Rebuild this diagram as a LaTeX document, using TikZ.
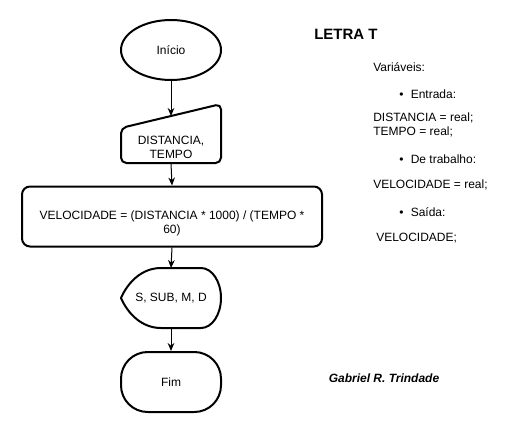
\documentclass[tikz,border=0pt]{standalone}
\usepackage{fontspec}
\setmainfont{Liberation Sans}
\usepackage{tikz}
\usetikzlibrary{positioning,shapes.geometric,arrows.meta}

\begin{document}
\begin{tikzpicture}[x=0.75pt,y=0.75pt,yscale=-1,xscale=1,
    font=\fontsize{9}{10.5}\selectfont,
    flow/.style={draw,line width=1.5pt},
    link/.style={line width=0.75pt,-{Stealth[length=6pt,width=5pt]}},
    txt/.style={inner sep=0pt,anchor=west,align=left}]
        \useasboundingbox (0,0) rectangle (522,433);
        %Shape: Ellipse [id:inicio]
        \node [flow,ellipse,minimum width=75pt,minimum height=45pt,inner sep=0pt] (inicio) at (171,50) {Início};
        %Shape: Manual Input [id:entrada]
        \draw [flow,rounded corners=4pt] (121,128) -- (221,104) -- (221,163) -- (121,163) -- cycle ;
        \node [inner sep=0.75pt,align=center] (entrada) at (171,147) {DISTANCIA,\\TEMPO};
        \coordinate (entrada-top) at (171,116);
        \coordinate (entrada-bot) at (171,163);
        %Shape: Rounded Rect [id:calculo]
        \node [flow,rounded corners=6pt,minimum width=225pt,minimum height=45pt] (calculo) at (172,216.5) {};
        \node [inner sep=0.75pt,align=center] (calculo-txt) at (172,223)
            {VELOCIDADE = (DISTANCIA * 1000) / (TEMPO *\\60)};
        %Shape: Display [id:saida]
        \draw [flow] (121,298) .. controls (128,282) and (142,268) .. (161,268) -- (201,268)
            .. controls (212,268) and (221,281.4) .. (221,298) .. controls (221,314.6) and (212,328) ..
            (201,328) -- (161,328) .. controls (142,328) and (128,314) .. (121,298) -- cycle ;
        \node [inner sep=0.75pt] (saida) at (171,298) {S, SUB, M, D};
        \coordinate (saida-top) at (171,268);
        \coordinate (saida-bot) at (171,328);
        %Shape: Terminator [id:fim]
        \node [flow,rounded corners=20pt,minimum width=75pt,minimum height=45pt] (fim) at (171,382) {Fim};
        %Straight Lines
        \draw [link] (inicio.south) -- (entrada-top) ;
        \draw [link] (entrada-bot) -- (calculo.north) ;
        \draw [link] (calculo.south) -- (saida-top) ;
        \draw [link] (saida-bot) -- (fim.north) ;
        % Text Node
        \node [txt,font=\fontsize{11.25}{13}\selectfont\bfseries] (titulo) at (314,34) {LETRA T};
        % Text Node
        \node [txt] (variaveis) at (373,67) {Variáveis:};
        \node [txt] (item-entrada) at (399,94) {\textbullet\hspace{5.5pt}Entrada:};
        \node [txt] (tipos-entrada) at (373,125) {DISTANCIA = real;\\TEMPO = real;};
        \node [txt] (item-trabalho) at (399,159) {\textbullet\hspace{5.5pt}De trabalho:};
        \node [txt] (tipos-trabalho) at (373,185) {VELOCIDADE = real;};
        \node [txt] (item-saida) at (399,212) {\textbullet\hspace{5.5pt}Saída:};
        \node [txt] (tipos-saida) at (376,238) {VELOCIDADE;};
        % Text Node
        \node [font=\fontsize{9}{10.5}\selectfont\bfseries\itshape] (autor) at (384,378) {Gabriel R. Trindade};
\end{tikzpicture}
\end{document}
